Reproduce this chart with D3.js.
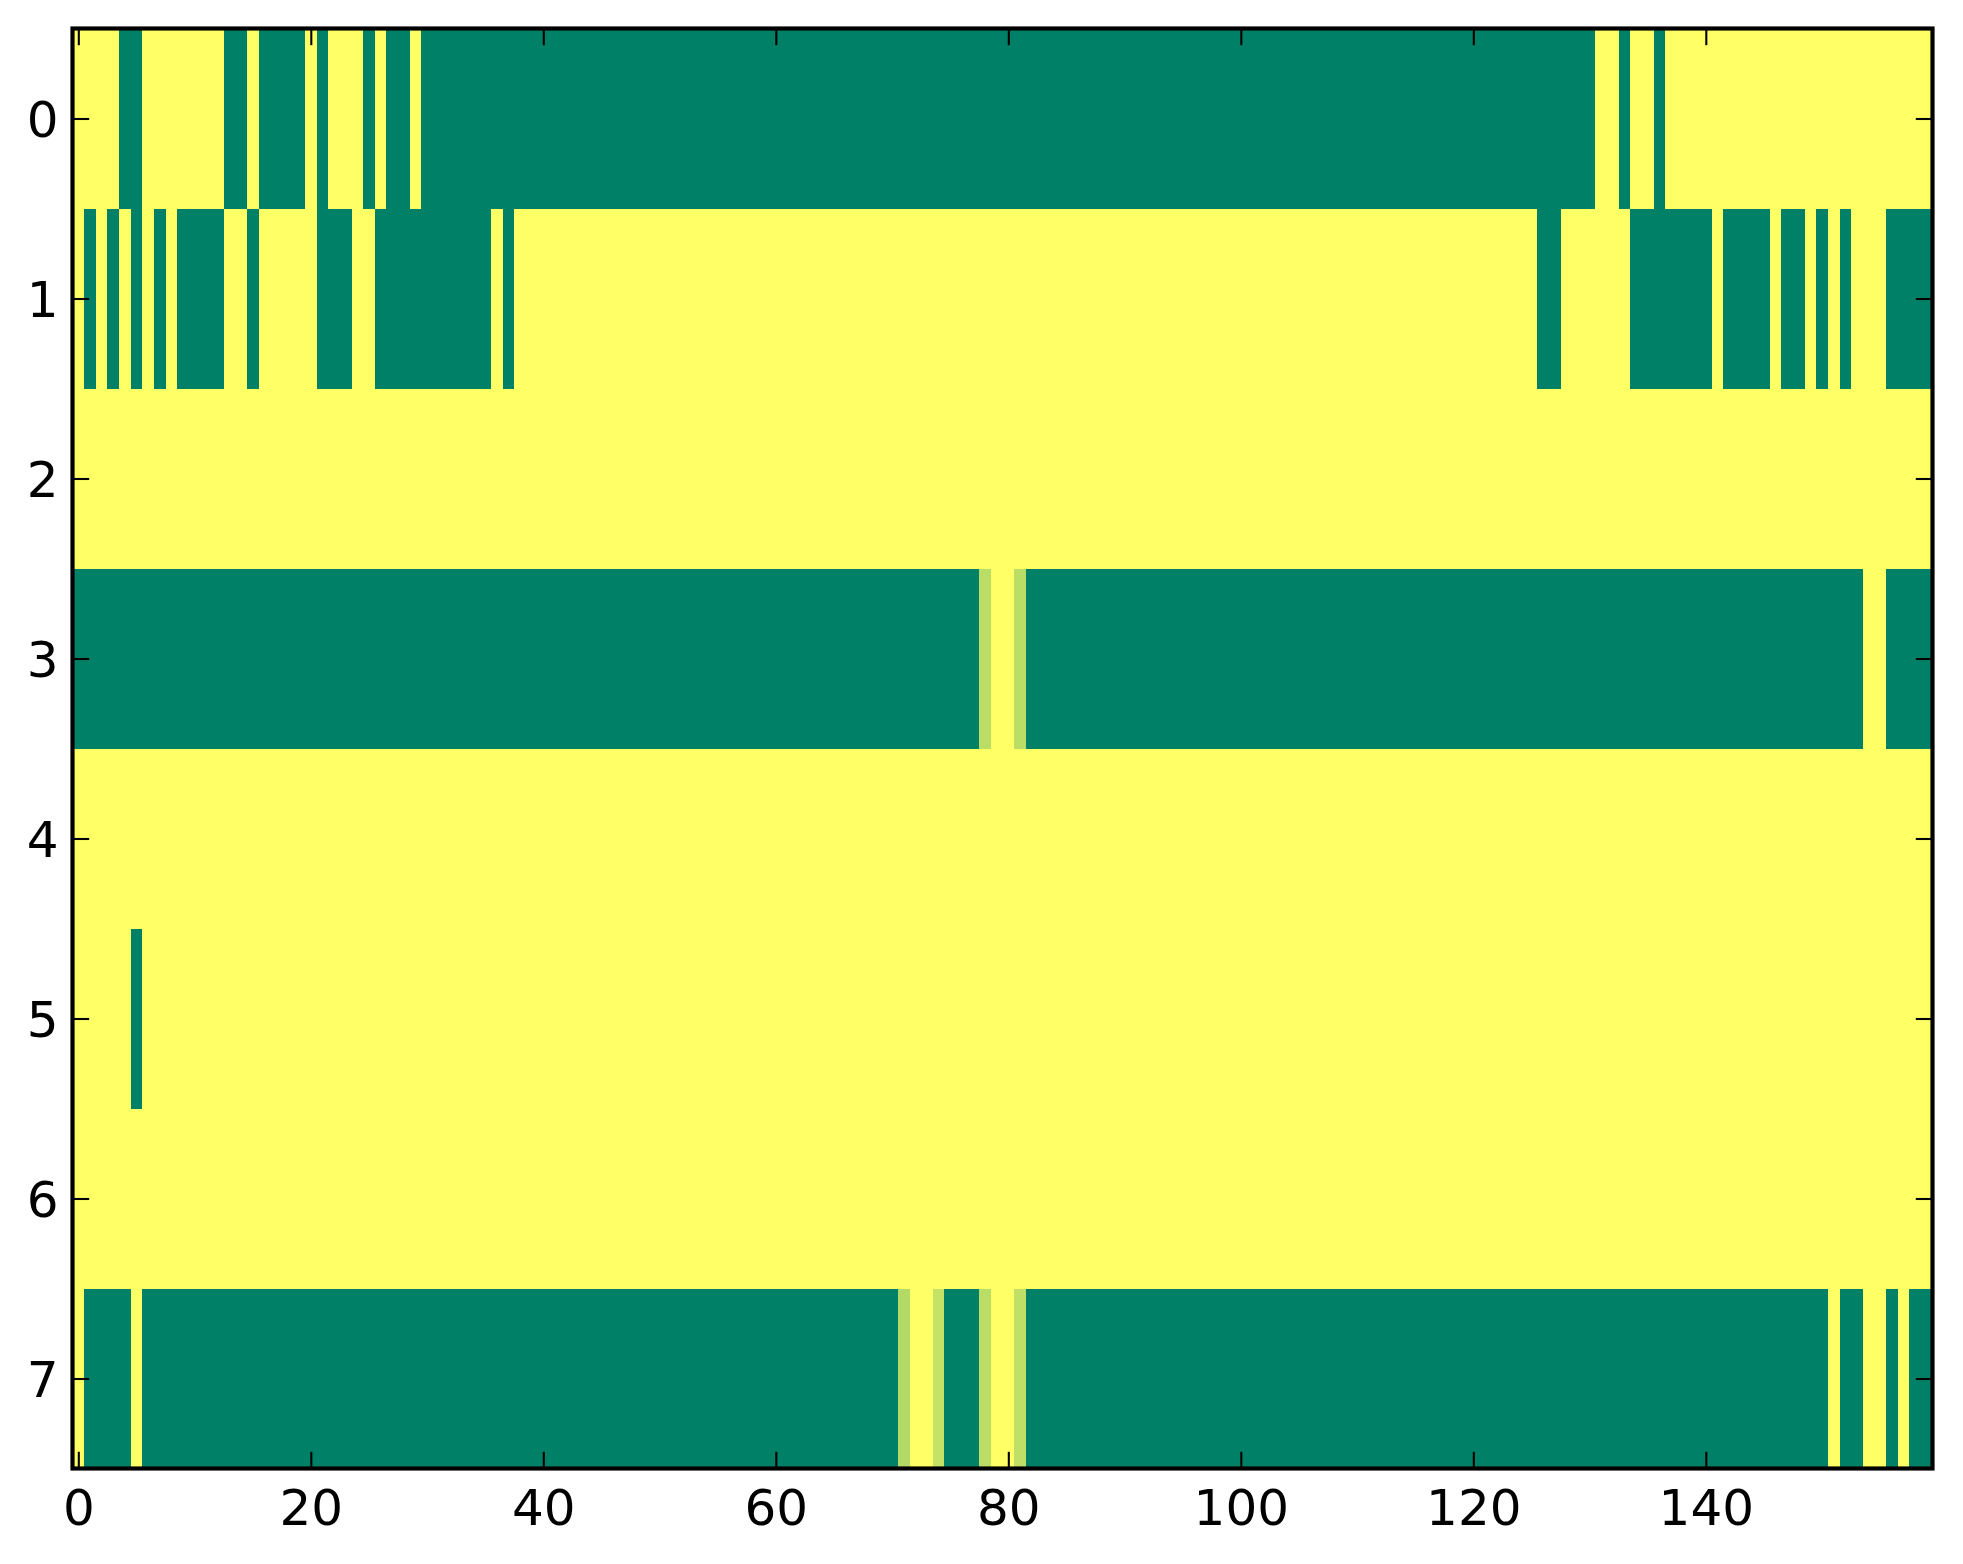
<!DOCTYPE html>
<html>
<head>
<meta charset="utf-8">
<script src="https://cdn.jsdelivr.net/npm/d3@7"></script>
<style>
  html, body { margin: 0; padding: 0; background: #fff; }
  svg { display: block; }
  text { font-family: "DejaVu Sans", sans-serif; }
</style>
</head>
<body>
<svg id="chart" width="1963" height="1564"></svg>
<script>
// ---- DATA ----
// Each row: 160 cells, written in groups of 10.
// '1' = value 1, '0' = value 0, letters = intermediate values (see valueCodes)
const row0 = "1111001111 1110010000 1011101001 0000000000 0000000000 0000000000 0000000000 0000000000 0000000000 0000000000 0000000000 0000000000 0000000000 0110110111 1111111111 1111111111";
const row1 = "1010101010 0001101111 1000110000 0000001011 1111111111 1111111111 1111111111 1111111111 1111111111 1111111111 1111111111 1111111111 1111110011 1111000000 0100001001 0101110000";
const row2 = "1111111111 1111111111 1111111111 1111111111 1111111111 1111111111 1111111111 1111111111 1111111111 1111111111 1111111111 1111111111 1111111111 1111111111 1111111111 1111111111";
const row3 = "0000000000 0000000000 0000000000 0000000000 0000000000 0000000000 0000000000 00000000a1 1a00000000 0000000000 0000000000 0000000000 0000000000 0000000000 0000000000 0000110000";
const row4 = "1111111111 1111111111 1111111111 1111111111 1111111111 1111111111 1111111111 1111111111 1111111111 1111111111 1111111111 1111111111 1111111111 1111111111 1111111111 1111111111";
const row5 = "1111101111 1111111111 1111111111 1111111111 1111111111 1111111111 1111111111 1111111111 1111111111 1111111111 1111111111 1111111111 1111111111 1111111111 1111111111 1111111111";
const row6 = "1111111111 1111111111 1111111111 1111111111 1111111111 1111111111 1111111111 1111111111 1111111111 1111111111 1111111111 1111111111 1111111111 1111111111 1111111111 1111111111";
const row7 = "1000010000 0000000000 0000000000 0000000000 0000000000 0000000000 0000000000 0b11c000d1 1e00000000 0000000000 0000000000 0000000000 0000000000 0000000000 0000000000 0100110100";
const valueCodes = { "0": 0, "1": 1, a: 0.73, b: 0.70, c: 0.77, d: 0.73, e: 0.75 };
const rowStrings = [row0, row1, row2, row3, row4, row5, row6, row7];
const xTickValues = [0, 20, 40, 60, 80, 100, 120, 140];
const yTickValues = [0, 1, 2, 3, 4, 5, 6, 7];

// ---- BUILD MATRIX ----
const matrix = rowStrings.map(s => s.replace(/\s+/g, "").split("").map(ch => valueCodes[ch]));
const nRows = matrix.length, nCols = matrix[0].length;
const cells = [];
matrix.forEach((r, i) => r.forEach((v, j) => cells.push({ row: i, col: j, v })));

// ---- LAYOUT ----
const plotLeft = 72.5, plotTop = 28.5, plotW = 1860, plotH = 1440;
const fontSize = 50, tickLen = 16.7, tickW = 2.08, frameW = 4.17;

const svg = d3.select("#chart");
svg.append("rect").attr("width", 1963).attr("height", 1564).attr("fill", "#fff");

const x = d3.scaleLinear().domain([-0.5, nCols - 0.5]).range([plotLeft, plotLeft + plotW]);
const y = d3.scaleLinear().domain([-0.5, nRows - 0.5]).range([plotTop, plotTop + plotH]);
// matplotlib "summer" colormap
const color = d3.scaleLinear().domain([0, 1]).range(["rgb(0,128,102)", "rgb(255,255,102)"]);

svg.append("g")
  .attr("shape-rendering", "crispEdges")
  .selectAll("rect")
  .data(cells)
  .join("rect")
  .attr("x", d => x(d.col - 0.5))
  .attr("y", d => y(d.row - 0.5))
  .attr("width", d => x(d.col + 0.5) - x(d.col - 0.5) + 0.3)
  .attr("height", d => y(d.row + 0.5) - y(d.row - 0.5) + 0.3)
  .attr("fill", d => color(d.v));

function styleAxis(g) {
  g.select(".domain").remove();
  g.selectAll(".tick line").attr("stroke", "#000").attr("stroke-width", tickW);
  g.selectAll(".tick text").attr("fill", "#000").attr("font-size", fontSize)
    .attr("font-family", "DejaVu Sans, sans-serif");
}

// bottom
svg.append("g")
  .attr("transform", `translate(0,${plotTop + plotH})`)
  .call(d3.axisBottom(x).tickValues(xTickValues).tickSizeInner(-tickLen).tickSizeOuter(0).tickPadding(21))
  .call(styleAxis);
// top
svg.append("g")
  .attr("transform", `translate(0,${plotTop})`)
  .call(d3.axisTop(x).tickValues(xTickValues).tickSizeInner(-tickLen).tickSizeOuter(0).tickFormat(""))
  .call(styleAxis);
// left
const gl = svg.append("g")
  .attr("transform", `translate(${plotLeft},0)`)
  .call(d3.axisLeft(y).tickValues(yTickValues).tickSizeInner(-tickLen).tickSizeOuter(0).tickPadding(14))
  .call(styleAxis);
gl.selectAll(".tick text").attr("dy", "0.365em");
// right
svg.append("g")
  .attr("transform", `translate(${plotLeft + plotW},0)`)
  .call(d3.axisRight(y).tickValues(yTickValues).tickSizeInner(-tickLen).tickSizeOuter(0).tickFormat(""))
  .call(styleAxis);

// frame
svg.append("rect")
  .attr("x", plotLeft).attr("y", plotTop).attr("width", plotW).attr("height", plotH)
  .attr("fill", "none").attr("stroke", "#000").attr("stroke-width", frameW);
</script>
</body>
</html>
